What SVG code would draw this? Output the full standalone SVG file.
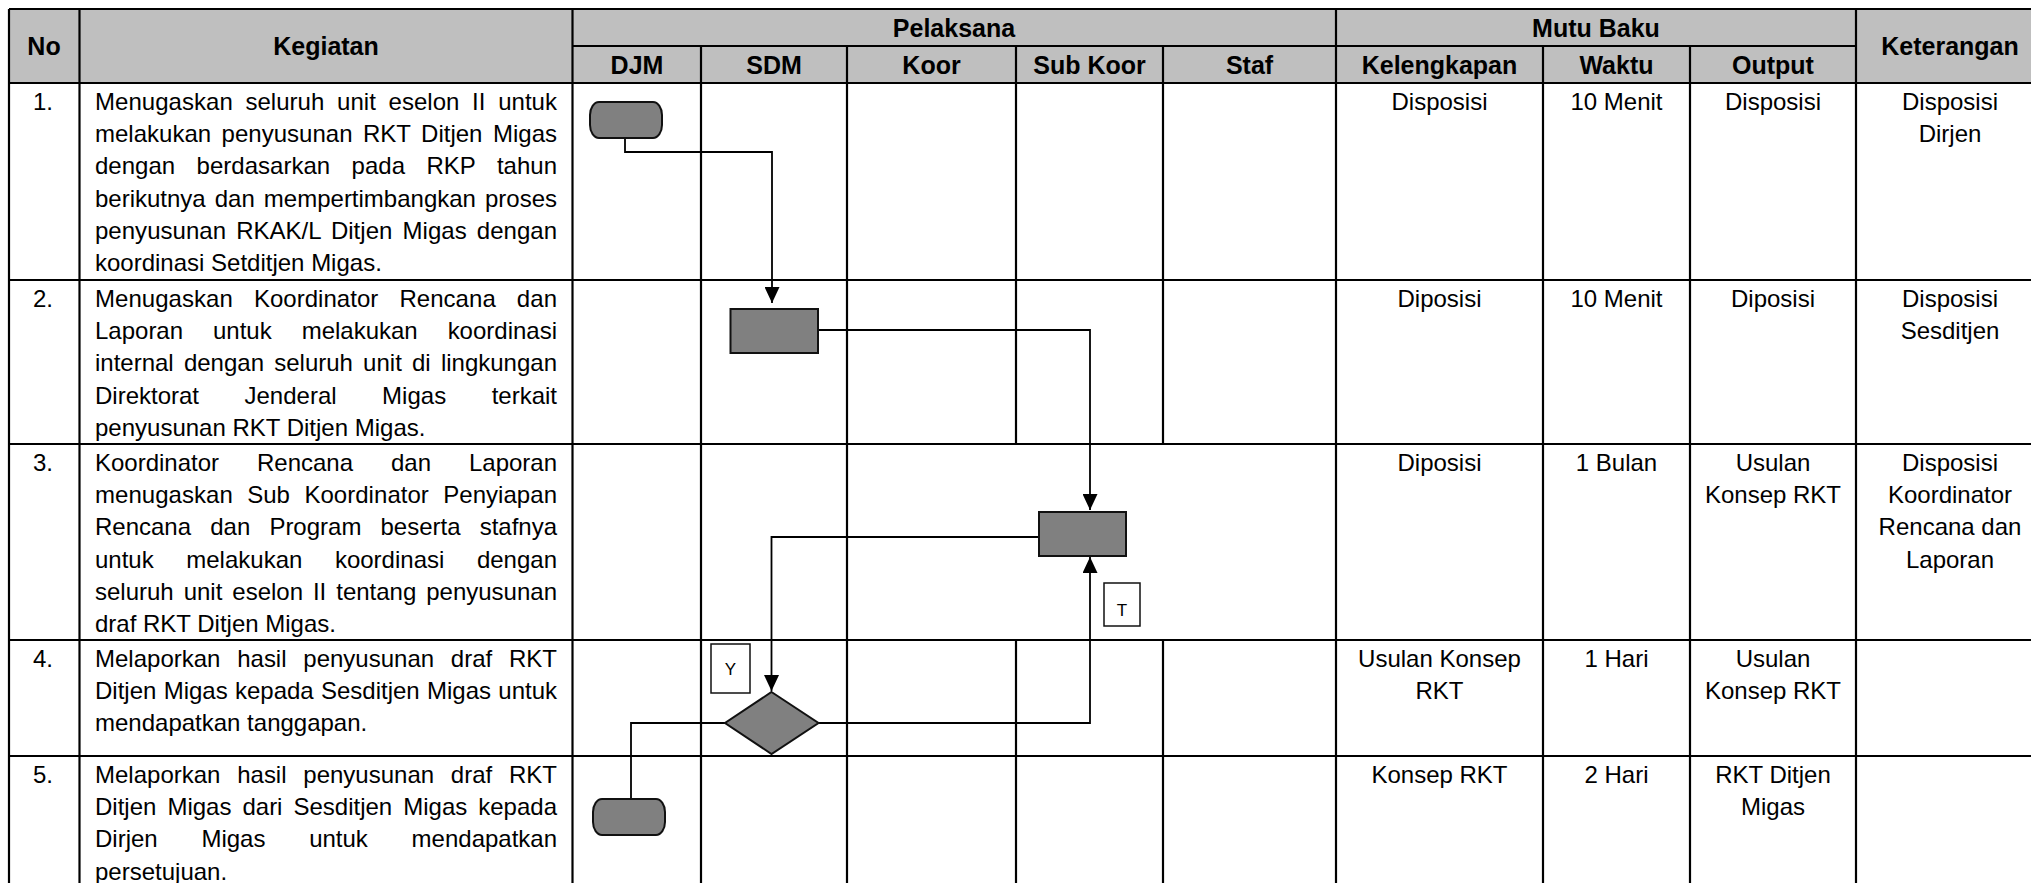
<svg xmlns="http://www.w3.org/2000/svg" width="2031" height="883" viewBox="0 0 2031 883">
<defs>
<marker id="arr" markerUnits="userSpaceOnUse" markerWidth="16" markerHeight="15" refX="16" refY="7.5" orient="auto" viewBox="0 0 16 15">
<path d="M0,0 L16,7.5 L0,15 z" fill="#000"/>
</marker>
</defs>
<style>
.grid line{stroke:#000;stroke-width:2.2}
.t{font-family:"Liberation Sans",Arial,sans-serif;font-size:24px;fill:#000}
.c{text-anchor:middle}
.h{font-family:"Liberation Sans",Arial,sans-serif;font-size:25px;font-weight:bold;text-anchor:middle;fill:#000}
.shape{fill:#808080;stroke:#111;stroke-width:2}
.conn{fill:none;stroke:#000;stroke-width:1.8}
.lbl{fill:#fff;stroke:#111;stroke-width:1.5}
.ls{font-family:"Liberation Sans",Arial,sans-serif;font-size:17px;text-anchor:middle;fill:#000}
</style>
<rect x="0" y="0" width="2031" height="883" fill="#fff"/>
<g id="table">
<rect x="9" y="9" width="2040" height="74" fill="#bfbfbf"/>
<g class="grid">
<line x1="9" y1="9" x2="2050" y2="9"/>
<line x1="572.5" y1="46" x2="1856" y2="46"/>
<line x1="9" y1="83" x2="2050" y2="83"/>
<line x1="9" y1="280" x2="2050" y2="280"/>
<line x1="9" y1="444" x2="2050" y2="444"/>
<line x1="9" y1="640" x2="2050" y2="640"/>
<line x1="9" y1="756" x2="2050" y2="756"/>
<line x1="9" y1="9" x2="9" y2="890"/>
<line x1="79.5" y1="9" x2="79.5" y2="890"/>
<line x1="572.5" y1="9" x2="572.5" y2="890"/>
<line x1="701" y1="46" x2="701" y2="890"/>
<line x1="847" y1="46" x2="847" y2="890"/>
<line x1="1016" y1="46" x2="1016" y2="444"/>
<line x1="1016" y1="640" x2="1016" y2="890"/>
<line x1="1163" y1="46" x2="1163" y2="444"/>
<line x1="1163" y1="640" x2="1163" y2="890"/>
<line x1="1336" y1="9" x2="1336" y2="890"/>
<line x1="1543" y1="46" x2="1543" y2="890"/>
<line x1="1690" y1="46" x2="1690" y2="890"/>
<line x1="1856" y1="9" x2="1856" y2="890"/>
</g>
<g id="headers">
<text class="h" x="44" y="55">No</text>
<text class="h" x="326" y="55">Kegiatan</text>
<text class="h" x="954" y="37">Pelaksana</text>
<text class="h" x="1596" y="37">Mutu Baku</text>
<text class="h" x="1950" y="55">Keterangan</text>
<text class="h" x="637" y="74">DJM</text>
<text class="h" x="774" y="74">SDM</text>
<text class="h" x="931.5" y="74">Koor</text>
<text class="h" x="1089.5" y="74">Sub Koor</text>
<text class="h" x="1249.5" y="74">Staf</text>
<text class="h" x="1439.5" y="74">Kelengkapan</text>
<text class="h" x="1616.5" y="74">Waktu</text>
<text class="h" x="1773" y="74">Output</text>
</g>
<g id="numbers" class="t c">
<text x="43" y="110">1.</text>
<text x="43" y="307">2.</text>
<text x="43" y="471">3.</text>
<text x="43" y="667">4.</text>
<text x="43" y="783">5.</text>
</g>
<g id="kegiatan" class="t">
<text x="95" y="110" word-spacing="5.95" textLength="462" lengthAdjust="spacing">Menugaskan seluruh unit eselon II untuk</text>
<text x="95" y="142.2" word-spacing="3.8" textLength="462" lengthAdjust="spacing">melakukan penyusunan RKT Ditjen Migas</text>
<text x="95" y="174.4" word-spacing="14.8" textLength="462" lengthAdjust="spacing">dengan berdasarkan pada RKP tahun</text>
<text x="95" y="206.6" word-spacing="2.4" textLength="462" lengthAdjust="spacing">berikutnya dan mempertimbangkan proses</text>
<text x="95" y="238.8" word-spacing="3.45" textLength="462" lengthAdjust="spacing">penyusunan RKAK/L Ditjen Migas dengan</text>
<text x="95" y="271">koordinasi Setditjen Migas.</text>

<text x="95" y="307" word-spacing="14.4" textLength="462" lengthAdjust="spacing">Menugaskan Koordinator Rencana dan</text>
<text x="95" y="339.2" word-spacing="23.3" textLength="462" lengthAdjust="spacing">Laporan untuk melakukan koordinasi</text>
<text x="95" y="371.4" word-spacing="3.55" textLength="462" lengthAdjust="spacing">internal dengan seluruh unit di lingkungan</text>
<text x="95" y="403.6" word-spacing="38.9" textLength="462" lengthAdjust="spacing">Direktorat Jenderal Migas terkait</text>
<text x="95" y="435.8">penyusunan RKT Ditjen Migas.</text>

<text x="95" y="471" word-spacing="31.3" textLength="462" lengthAdjust="spacing">Koordinator Rencana dan Laporan</text>
<text x="95" y="503.2" word-spacing="7.7" textLength="462" lengthAdjust="spacing">menugaskan Sub Koordinator Penyiapan</text>
<text x="95" y="535.4" word-spacing="12.5" textLength="462" lengthAdjust="spacing">Rencana dan Program beserta stafnya</text>
<text x="95" y="567.6" word-spacing="25.9" textLength="462" lengthAdjust="spacing">untuk melakukan koordinasi dengan</text>
<text x="95" y="599.8" word-spacing="3.3" textLength="462" lengthAdjust="spacing">seluruh unit eselon II tentang penyusunan</text>
<text x="95" y="632">draf RKT Ditjen Migas.</text>

<text x="95" y="667" word-spacing="10.1" textLength="462" lengthAdjust="spacing">Melaporkan hasil penyusunan draf RKT</text>
<text x="95" y="699.2" word-spacing="0.63" textLength="462" lengthAdjust="spacing">Ditjen Migas kepada Sesditjen Migas untuk</text>
<text x="95" y="731.4">mendapatkan tanggapan.</text>

<text x="95" y="783" word-spacing="10.1" textLength="462" lengthAdjust="spacing">Melaporkan hasil penyusunan draf RKT</text>
<text x="95" y="815.2" word-spacing="4.4" textLength="462" lengthAdjust="spacing">Ditjen Migas dari Sesditjen Migas kepada</text>
<text x="95" y="847.4" word-spacing="37.1" textLength="462" lengthAdjust="spacing">Dirjen Migas untuk mendapatkan</text>
<text x="95" y="879.6">persetujuan.</text>
</g>
<g id="mutu" class="t c">
<text x="1439.5" y="110">Disposisi</text>
<text x="1616.5" y="110">10 Menit</text>
<text x="1773" y="110">Disposisi</text>
<text x="1950" y="110">Disposisi</text>
<text x="1950" y="142.2">Dirjen</text>

<text x="1439.5" y="307">Diposisi</text>
<text x="1616.5" y="307">10 Menit</text>
<text x="1773" y="307">Diposisi</text>
<text x="1950" y="307">Disposisi</text>
<text x="1950" y="339.2">Sesditjen</text>

<text x="1439.5" y="471">Diposisi</text>
<text x="1616.5" y="471">1 Bulan</text>
<text x="1773" y="471">Usulan</text>
<text x="1773" y="503.2">Konsep RKT</text>
<text x="1950" y="471">Disposisi</text>
<text x="1950" y="503.2">Koordinator</text>
<text x="1950" y="535.4">Rencana dan</text>
<text x="1950" y="567.6">Laporan</text>

<text x="1439.5" y="667">Usulan Konsep</text>
<text x="1439.5" y="699.2">RKT</text>
<text x="1616.5" y="667">1 Hari</text>
<text x="1773" y="667">Usulan</text>
<text x="1773" y="699.2">Konsep RKT</text>

<text x="1439.5" y="783">Konsep RKT</text>
<text x="1616.5" y="783">2 Hari</text>
<text x="1773" y="783">RKT Ditjen</text>
<text x="1773" y="815.2">Migas</text>
</g>
</g>
<g id="connectors">
<polyline class="conn" points="625,138 625,152 772,152 772,303" marker-end="url(#arr)"/>
<polyline class="conn" points="818,330 1090,330 1090,510" marker-end="url(#arr)"/>
<polyline class="conn" points="1039,537 771.5,537 771.5,691" marker-end="url(#arr)"/>
<polyline class="conn" points="818.5,723 1090,723 1090,557" marker-end="url(#arr)"/>
<polyline class="conn" points="725,723 631,723 631,799"/>
</g>
<g id="term1"><rect class="shape" x="590" y="102" width="72" height="36" rx="9" ry="13"/></g>
<g id="box2"><rect class="shape" x="730.5" y="309" width="87.5" height="44"/></g>
<g id="box3"><rect class="shape" x="1039" y="512" width="87" height="44"/></g>
<g id="decision"><polygon class="shape" points="771.5,692 818.5,723 771.5,754 725,723"/></g>
<g id="term2"><rect class="shape" x="593" y="799" width="72" height="36" rx="9" ry="13"/></g>
<g id="labelT"><rect class="lbl" x="1104" y="583" width="36" height="43"/><text class="ls" x="1122" y="616">T</text></g>
<g id="labelY"><rect class="lbl" x="711" y="644" width="39" height="49"/><text class="ls" x="730.5" y="675">Y</text></g>
</svg>
